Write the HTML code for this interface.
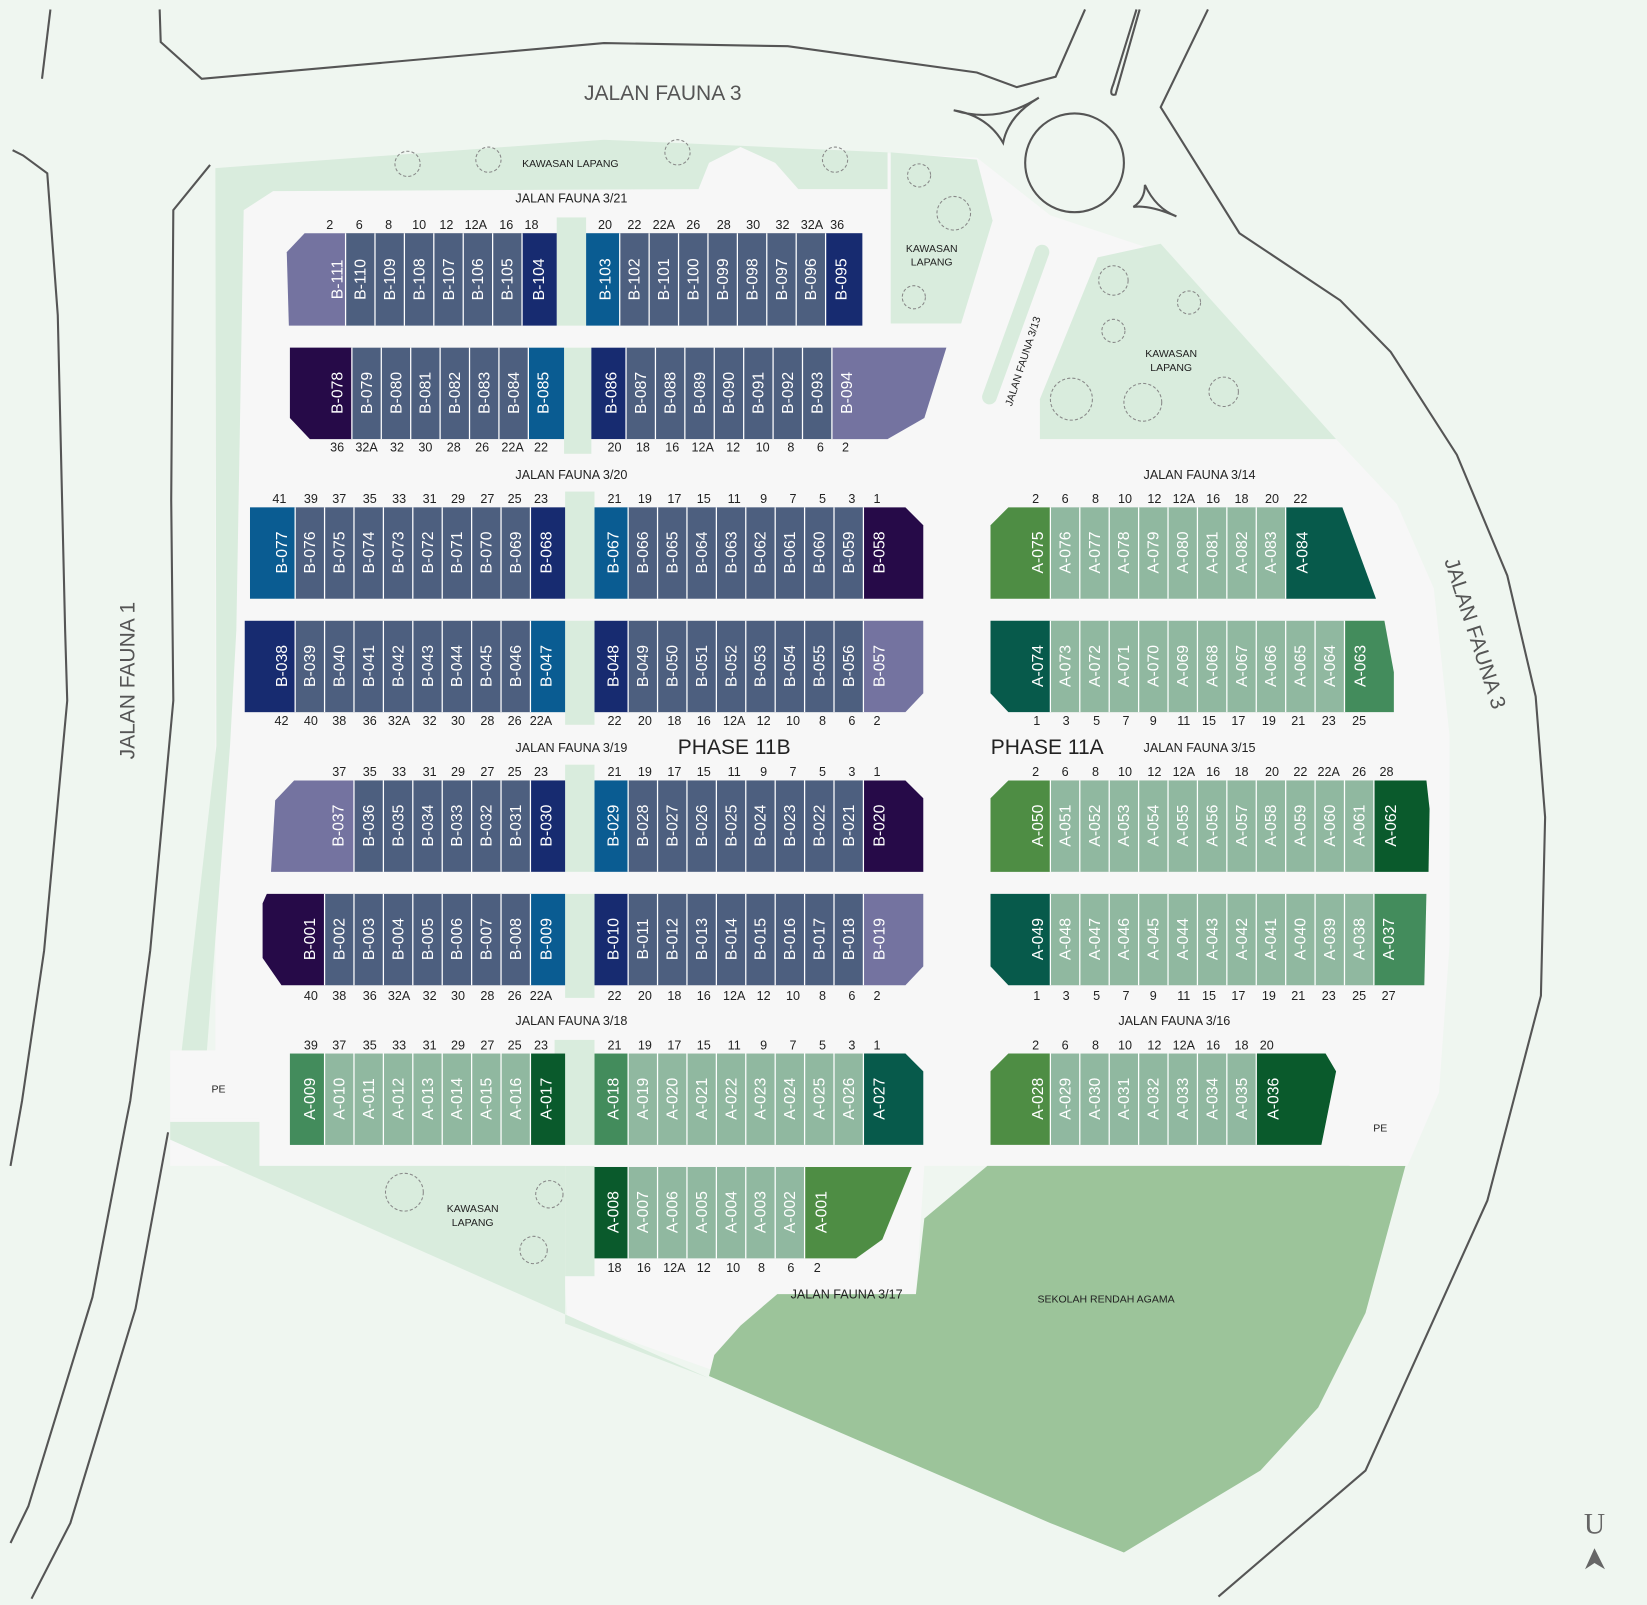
<!DOCTYPE html>
<html><head><meta charset="utf-8"><style>
html,body{margin:0;padding:0;background:#eff6f0}
svg{display:block}
.u{font-family:"Liberation Sans",sans-serif;font-size:15px;fill:#fff;text-anchor:middle}
.n{font-family:"Liberation Sans",sans-serif;font-size:12px;fill:#222;text-anchor:middle}
.r{font-family:"Liberation Sans",sans-serif;font-size:12px;fill:#222;text-anchor:middle}
.s{font-family:"Liberation Sans",sans-serif;font-size:10px;fill:#222;text-anchor:middle}
.big{font-family:"Liberation Sans",sans-serif;font-size:20px;fill:#555;text-anchor:middle}
.d{stroke:#fff;stroke-width:1.2}
.ol{fill:none;stroke:#555;stroke-width:2}
.tr{fill:none;stroke:#888;stroke-width:1;stroke-dasharray:3 2}
</style></head><body>
<svg width="1647" height="1605" viewBox="0 0 1568 1528" xmlns="http://www.w3.org/2000/svg">
<rect width="1568" height="1528" fill="#eff6f0"/>
<!-- outer road outlines -->
<polyline class="ol" points="48,9 40,75"/>
<polyline class="ol" points="152,9 153,40 192,75 575,41 750,44 930,69 968,83 1005,73 1033,9"/>
<path class="ol" d="M1082,9 L1060,80 Q1055,92 1062,90 L1085,9"/>
<polyline class="ol" points="1150,9 1105,102 1180,222 1276,286 1324,335 1387,433 1435,548 1462,663 1471,778 1467,948 1416,1143 1300,1400 1160,1520"/>
<polyline class="ol" points="12,143 22,148 45,165 55,300 62,600 64,667 42,905 21,1048 10,1110"/>
<polyline class="ol" points="200,157 165,200 163,476 165,667 143,905 124,1048 120,1068 88,1235 27,1434 10,1469"/>
<polyline class="ol" points="160,1078 129,1246 67,1450 30,1522"/>
<circle class="ol" cx="1023" cy="155" r="47"/>
<path class="ol" d="M908,105 Q950,118 989,93 Q960,110 955,136 Q940,110 908,105Z"/>
<path class="ol" d="M1090,176 Q1100,198 1120,206 Q1095,195 1079,197 Q1090,190 1090,176Z"/>
<!-- estate white -->
<polygon fill="#f7f7f7" points="205,160 575,133 930,150 1000,205 1090,235 1272,418 1330,480 1365,560 1380,700 1380,900 1370,1040 1340,1110 880,1110 872,1232 740,1234 705,1262 680,1305 540,1255 530,1110 162,1110 162,1000 205,1000"/>
<!-- parks -->
<polygon fill="#d9ecdd" points="205,160 575,133 845,145 845,180 760,180 738,155 705,140 675,155 665,180 260,182 232,200 225,600 219,710 197,1000 173,1000 206,710"/>
<polygon fill="#d9ecdd" points="848,145 930,152 945,210 915,308 848,308"/>
<polygon fill="#d9ecdd" points="1045,245 1105,232 1272,418 990,418 990,380"/>
<line x1="992" y1="240" x2="942" y2="378" stroke="#d9ecdd" stroke-width="14" stroke-linecap="round"/>
<polygon fill="#d9ecdd" points="162,1068 247,1068 247,1110 538,1110 538,1260 675,1312 162,1085"/>
<polygon fill="#9cc49a" points="940,1110 1338,1110 1300,1250 1255,1340 1200,1400 1070,1478 1000,1450 675,1310 680,1290 705,1262 740,1232 872,1232 880,1160"/>
<!-- green strips between blocks -->
<g fill="#d9ecdd">
<rect x="530" y="207" width="28" height="103"/><rect x="537" y="331" width="26" height="101"/>
<rect x="538" y="468" width="28" height="102"/><rect x="538" y="591" width="28" height="99"/>
<rect x="538" y="728" width="28" height="102"/><rect x="538" y="851" width="28" height="99"/>
<rect x="528" y="990" width="38" height="100"/><rect x="538" y="1110" width="28" height="105"/>
</g>
<!-- PE boxes -->
<rect x="162" y="1005" width="85" height="60" fill="#f7f7f7"/>
<polygon fill="#f7f7f7" points="1300,1035 1340,1030 1340,1110 1285,1110"/>
<text class="s" x="208" y="1040">PE</text><text class="s" x="1314" y="1077">PE</text>
<!-- trees -->
<g class="tr">
<circle cx="388" cy="156" r="12"/><circle cx="465" cy="152" r="12"/><circle cx="645" cy="145" r="12"/><circle cx="795" cy="152" r="12"/>
<circle cx="875" cy="167" r="11"/><circle cx="908" cy="203" r="16"/><circle cx="870" cy="283" r="11"/>
<circle cx="1060" cy="267" r="14"/><circle cx="1132" cy="288" r="11"/><circle cx="1060" cy="315" r="11"/><circle cx="1020" cy="380" r="20"/><circle cx="1088" cy="383" r="18"/><circle cx="1165" cy="373" r="14"/>
<circle cx="385" cy="1135" r="18"/><circle cx="523" cy="1137" r="13"/><circle cx="508" cy="1190" r="13"/>
</g>
<!-- labels -->
<text class="big" x="631" y="95">JALAN FAUNA 3</text>
<text class="big" transform="translate(128,648) rotate(-90)">JALAN FAUNA 1</text>
<text class="big" transform="translate(1398,605) rotate(72)">JALAN FAUNA 3</text>
<text class="s" x="543" y="159">KAWASAN LAPANG</text>
<text class="s" x="887" y="240">KAWASAN</text><text class="s" x="887" y="253">LAPANG</text>
<text class="s" x="1115" y="340">KAWASAN</text><text class="s" x="1115" y="353">LAPANG</text>
<text class="s" x="450" y="1154">KAWASAN</text><text class="s" x="450" y="1167">LAPANG</text>
<text class="s" x="1053" y="1240">SEKOLAH RENDAH AGAMA</text>
<text class="s" transform="translate(977,345) rotate(-72)">JALAN FAUNA 3/13</text>
<text class="r" x="544" y="193">JALAN FAUNA 3/21</text>
<text class="r" x="544" y="456">JALAN FAUNA 3/20</text>
<text class="r" x="1142" y="456">JALAN FAUNA 3/14</text>
<text class="r" x="544" y="716">JALAN FAUNA 3/19</text>
<text class="r" x="1142" y="716">JALAN FAUNA 3/15</text>
<text class="r" x="544" y="976">JALAN FAUNA 3/18</text>
<text class="r" x="1118" y="976">JALAN FAUNA 3/16</text>
<text class="r" x="806" y="1236">JALAN FAUNA 3/17</text>
<text x="699" y="718" style="font-family:'Liberation Sans',sans-serif;font-size:20px;fill:#222;text-anchor:middle">PHASE 11B</text>
<text x="997" y="718" style="font-family:'Liberation Sans',sans-serif;font-size:20px;fill:#222;text-anchor:middle">PHASE 11A</text>
<text x="1518" y="1460" style="font-family:'Liberation Serif',serif;font-size:28px;fill:#666;text-anchor:middle">U</text>
<polygon points="1509,1494 1518,1474 1528,1494 1518,1488" fill="#666"/>

<!-- ROW 1 -->
<rect x="329" y="222" width="168" height="88" fill="#4d5f7f"/>
<polygon points="290,222 329,222 329,310 275,310 273,240" fill="#7473a0"/>
<rect x="497" y="222" width="33" height="88" fill="#172b70"/>
<rect x="558" y="222" width="32" height="88" fill="#0a5c92"/>
<rect x="590" y="222" width="196" height="88" fill="#4d5f7f"/>
<rect x="786" y="222" width="35" height="88" fill="#172b70"/>
<g class="d"><path d="M329,222V310M357,222V310M385,222V310M413,222V310M441,222V310M469,222V310M497,222V310M590,222V310M618,222V310M646,222V310M674,222V310M702,222V310M730,222V310M758,222V310M786,222V310"/></g>
<g class="u">
<text transform="translate(321,266) rotate(-90)" dy="5">B-111</text><text transform="translate(343,266) rotate(-90)" dy="5">B-110</text><text transform="translate(371,266) rotate(-90)" dy="5">B-109</text><text transform="translate(399,266) rotate(-90)" dy="5">B-108</text><text transform="translate(427,266) rotate(-90)" dy="5">B-107</text><text transform="translate(455,266) rotate(-90)" dy="5">B-106</text><text transform="translate(483,266) rotate(-90)" dy="5">B-105</text><text transform="translate(513,266) rotate(-90)" dy="5">B-104</text>
<text transform="translate(576,266) rotate(-90)" dy="5">B-103</text><text transform="translate(604,266) rotate(-90)" dy="5">B-102</text><text transform="translate(632,266) rotate(-90)" dy="5">B-101</text><text transform="translate(660,266) rotate(-90)" dy="5">B-100</text><text transform="translate(688,266) rotate(-90)" dy="5">B-099</text><text transform="translate(716,266) rotate(-90)" dy="5">B-098</text><text transform="translate(744,266) rotate(-90)" dy="5">B-097</text><text transform="translate(772,266) rotate(-90)" dy="5">B-096</text><text transform="translate(801,266) rotate(-90)" dy="5">B-095</text>
</g>
<g class="n">
<text x="314" y="218">2</text><text x="342" y="218">6</text><text x="370" y="218">8</text><text x="399" y="218">10</text><text x="425" y="218">12</text><text x="453" y="218">12A</text><text x="482" y="218">16</text><text x="506" y="218">18</text>
<text x="576" y="218">20</text><text x="604" y="218">22</text><text x="632" y="218">22A</text><text x="660" y="218">26</text><text x="689" y="218">28</text><text x="717" y="218">30</text><text x="745" y="218">32</text><text x="773" y="218">32A</text><text x="797" y="218">36</text>
</g>

<!-- ROW 2 -->
<polygon points="276,331 335,331 335,418 295,418 276,398" fill="#260a48"/>
<rect x="335" y="331" width="168" height="87" fill="#4d5f7f"/>
<rect x="503" y="331" width="34" height="87" fill="#0a5c92"/>
<rect x="563" y="331" width="33" height="87" fill="#172b70"/>
<rect x="596" y="331" width="196" height="87" fill="#4d5f7f"/>
<polygon points="792,331 901,331 880,398 845,418 792,418" fill="#7473a0"/>
<g class="d"><path d="M335,331V418M363,331V418M391,331V418M419,331V418M447,331V418M475,331V418M503,331V418M596,331V418M624,331V418M652,331V418M680,331V418M708,331V418M736,331V418M764,331V418M792,331V418"/></g>
<g class="u">
<text transform="translate(321,374) rotate(-90)" dy="5">B-078</text><text transform="translate(349,374) rotate(-90)" dy="5">B-079</text><text transform="translate(377,374) rotate(-90)" dy="5">B-080</text><text transform="translate(405,374) rotate(-90)" dy="5">B-081</text><text transform="translate(433,374) rotate(-90)" dy="5">B-082</text><text transform="translate(461,374) rotate(-90)" dy="5">B-083</text><text transform="translate(489,374) rotate(-90)" dy="5">B-084</text><text transform="translate(517,374) rotate(-90)" dy="5">B-085</text>
<text transform="translate(582,374) rotate(-90)" dy="5">B-086</text><text transform="translate(610,374) rotate(-90)" dy="5">B-087</text><text transform="translate(638,374) rotate(-90)" dy="5">B-088</text><text transform="translate(666,374) rotate(-90)" dy="5">B-089</text><text transform="translate(694,374) rotate(-90)" dy="5">B-090</text><text transform="translate(722,374) rotate(-90)" dy="5">B-091</text><text transform="translate(750,374) rotate(-90)" dy="5">B-092</text><text transform="translate(778,374) rotate(-90)" dy="5">B-093</text><text transform="translate(806,374) rotate(-90)" dy="5">B-094</text>
</g>
<g class="n">
<text x="321" y="430">36</text><text x="349" y="430">32A</text><text x="378" y="430">32</text><text x="405" y="430">30</text><text x="432" y="430">28</text><text x="459" y="430">26</text><text x="488" y="430">22A</text><text x="515" y="430">22</text>
<text x="585" y="430">20</text><text x="612" y="430">18</text><text x="640" y="430">16</text><text x="669" y="430">12A</text><text x="698" y="430">12</text><text x="726" y="430">10</text><text x="753" y="430">8</text><text x="781" y="430">6</text><text x="805" y="430">2</text>
</g>

<!-- ROW 3 -->
<rect x="238" y="483" width="43" height="87" fill="#0a5c92"/>
<rect x="281" y="483" width="224" height="87" fill="#4d5f7f"/>
<rect x="505" y="483" width="33" height="87" fill="#172b70"/>
<rect x="566" y="483" width="32" height="87" fill="#0a5c92"/>
<rect x="598" y="483" width="224" height="87" fill="#4d5f7f"/>
<polygon points="822,483 862,483 879,500 879,570 822,570" fill="#260a48"/>
<g class="d"><path d="M281,483V570M309,483V570M337,483V570M365,483V570M393,483V570M421,483V570M449,483V570M477,483V570M505,483V570M598,483V570M626,483V570M654,483V570M682,483V570M710,483V570M738,483V570M766,483V570M794,483V570M822,483V570"/></g>
<g class="u">
<text transform="translate(268,526) rotate(-90)" dy="5">B-077</text><text transform="translate(295,526) rotate(-90)" dy="5">B-076</text><text transform="translate(323,526) rotate(-90)" dy="5">B-075</text><text transform="translate(351,526) rotate(-90)" dy="5">B-074</text><text transform="translate(379,526) rotate(-90)" dy="5">B-073</text><text transform="translate(407,526) rotate(-90)" dy="5">B-072</text><text transform="translate(435,526) rotate(-90)" dy="5">B-071</text><text transform="translate(463,526) rotate(-90)" dy="5">B-070</text><text transform="translate(491,526) rotate(-90)" dy="5">B-069</text><text transform="translate(520,526) rotate(-90)" dy="5">B-068</text>
<text transform="translate(584,526) rotate(-90)" dy="5">B-067</text><text transform="translate(612,526) rotate(-90)" dy="5">B-066</text><text transform="translate(640,526) rotate(-90)" dy="5">B-065</text><text transform="translate(668,526) rotate(-90)" dy="5">B-064</text><text transform="translate(696,526) rotate(-90)" dy="5">B-063</text><text transform="translate(724,526) rotate(-90)" dy="5">B-062</text><text transform="translate(752,526) rotate(-90)" dy="5">B-061</text><text transform="translate(780,526) rotate(-90)" dy="5">B-060</text><text transform="translate(808,526) rotate(-90)" dy="5">B-059</text><text transform="translate(837,526) rotate(-90)" dy="5">B-058</text>
</g>
<g class="n">
<text x="266" y="479">41</text><text x="296" y="479">39</text><text x="323" y="479">37</text><text x="352" y="479">35</text><text x="380" y="479">33</text><text x="409" y="479">31</text><text x="436" y="479">29</text><text x="464" y="479">27</text><text x="490" y="479">25</text><text x="515" y="479">23</text>
<text x="585" y="479">21</text><text x="614" y="479">19</text><text x="642" y="479">17</text><text x="670" y="479">15</text><text x="699" y="479">11</text><text x="727" y="479">9</text><text x="755" y="479">7</text><text x="783" y="479">5</text><text x="811" y="479">3</text><text x="835" y="479">1</text>
</g>

<!-- ROW 4 -->
<rect x="233" y="591" width="48" height="87" fill="#172b70"/>
<rect x="281" y="591" width="224" height="87" fill="#4d5f7f"/>
<rect x="505" y="591" width="33" height="87" fill="#0a5c92"/>
<rect x="566" y="591" width="32" height="87" fill="#172b70"/>
<rect x="598" y="591" width="224" height="87" fill="#4d5f7f"/>
<polygon points="822,591 879,591 879,660 862,678 822,678" fill="#7473a0"/>
<g class="d"><path d="M281,591V678M309,591V678M337,591V678M365,591V678M393,591V678M421,591V678M449,591V678M477,591V678M505,591V678M598,591V678M626,591V678M654,591V678M682,591V678M710,591V678M738,591V678M766,591V678M794,591V678M822,591V678"/></g>
<g class="u">
<text transform="translate(268,634) rotate(-90)" dy="5">B-038</text><text transform="translate(295,634) rotate(-90)" dy="5">B-039</text><text transform="translate(323,634) rotate(-90)" dy="5">B-040</text><text transform="translate(351,634) rotate(-90)" dy="5">B-041</text><text transform="translate(379,634) rotate(-90)" dy="5">B-042</text><text transform="translate(407,634) rotate(-90)" dy="5">B-043</text><text transform="translate(435,634) rotate(-90)" dy="5">B-044</text><text transform="translate(463,634) rotate(-90)" dy="5">B-045</text><text transform="translate(491,634) rotate(-90)" dy="5">B-046</text><text transform="translate(520,634) rotate(-90)" dy="5">B-047</text>
<text transform="translate(584,634) rotate(-90)" dy="5">B-048</text><text transform="translate(612,634) rotate(-90)" dy="5">B-049</text><text transform="translate(640,634) rotate(-90)" dy="5">B-050</text><text transform="translate(668,634) rotate(-90)" dy="5">B-051</text><text transform="translate(696,634) rotate(-90)" dy="5">B-052</text><text transform="translate(724,634) rotate(-90)" dy="5">B-053</text><text transform="translate(752,634) rotate(-90)" dy="5">B-054</text><text transform="translate(780,634) rotate(-90)" dy="5">B-055</text><text transform="translate(808,634) rotate(-90)" dy="5">B-056</text><text transform="translate(837,634) rotate(-90)" dy="5">B-057</text>
</g>
<g class="n">
<text x="268" y="690">42</text><text x="296" y="690">40</text><text x="323" y="690">38</text><text x="352" y="690">36</text><text x="380" y="690">32A</text><text x="409" y="690">32</text><text x="436" y="690">30</text><text x="464" y="690">28</text><text x="490" y="690">26</text><text x="515" y="690">22A</text>
<text x="585" y="690">22</text><text x="614" y="690">20</text><text x="642" y="690">18</text><text x="670" y="690">16</text><text x="699" y="690">12A</text><text x="727" y="690">12</text><text x="755" y="690">10</text><text x="783" y="690">8</text><text x="811" y="690">6</text><text x="835" y="690">2</text>
</g>

<!-- ROW 5 -->
<polygon points="280,743 337,743 337,830 258,830 262,762" fill="#7473a0"/>
<rect x="337" y="743" width="168" height="87" fill="#4d5f7f"/>
<rect x="505" y="743" width="33" height="87" fill="#172b70"/>
<rect x="566" y="743" width="32" height="87" fill="#0a5c92"/>
<rect x="598" y="743" width="224" height="87" fill="#4d5f7f"/>
<polygon points="822,743 862,743 879,760 879,830 822,830" fill="#260a48"/>
<g class="d"><path d="M337,743V830M365,743V830M393,743V830M421,743V830M449,743V830M477,743V830M505,743V830M598,743V830M626,743V830M654,743V830M682,743V830M710,743V830M738,743V830M766,743V830M794,743V830M822,743V830"/></g>
<g class="u">
<text transform="translate(322,786) rotate(-90)" dy="5">B-037</text><text transform="translate(351,786) rotate(-90)" dy="5">B-036</text><text transform="translate(379,786) rotate(-90)" dy="5">B-035</text><text transform="translate(407,786) rotate(-90)" dy="5">B-034</text><text transform="translate(435,786) rotate(-90)" dy="5">B-033</text><text transform="translate(463,786) rotate(-90)" dy="5">B-032</text><text transform="translate(491,786) rotate(-90)" dy="5">B-031</text><text transform="translate(520,786) rotate(-90)" dy="5">B-030</text>
<text transform="translate(584,786) rotate(-90)" dy="5">B-029</text><text transform="translate(612,786) rotate(-90)" dy="5">B-028</text><text transform="translate(640,786) rotate(-90)" dy="5">B-027</text><text transform="translate(668,786) rotate(-90)" dy="5">B-026</text><text transform="translate(696,786) rotate(-90)" dy="5">B-025</text><text transform="translate(724,786) rotate(-90)" dy="5">B-024</text><text transform="translate(752,786) rotate(-90)" dy="5">B-023</text><text transform="translate(780,786) rotate(-90)" dy="5">B-022</text><text transform="translate(808,786) rotate(-90)" dy="5">B-021</text><text transform="translate(837,786) rotate(-90)" dy="5">B-020</text>
</g>
<g class="n">
<text x="323" y="739">37</text><text x="352" y="739">35</text><text x="380" y="739">33</text><text x="409" y="739">31</text><text x="436" y="739">29</text><text x="464" y="739">27</text><text x="490" y="739">25</text><text x="515" y="739">23</text>
<text x="585" y="739">21</text><text x="614" y="739">19</text><text x="642" y="739">17</text><text x="670" y="739">15</text><text x="699" y="739">11</text><text x="727" y="739">9</text><text x="755" y="739">7</text><text x="783" y="739">5</text><text x="811" y="739">3</text><text x="835" y="739">1</text>
</g>

<!-- ROW 6 -->
<polygon points="254,851 309,851 309,938 268,938 250,912 250,860" fill="#260a48"/>
<rect x="309" y="851" width="196" height="87" fill="#4d5f7f"/>
<rect x="505" y="851" width="33" height="87" fill="#0a5c92"/>
<rect x="566" y="851" width="32" height="87" fill="#172b70"/>
<rect x="598" y="851" width="224" height="87" fill="#4d5f7f"/>
<polygon points="822,851 879,851 879,920 862,938 822,938" fill="#7473a0"/>
<g class="d"><path d="M309,851V938M337,851V938M365,851V938M393,851V938M421,851V938M449,851V938M477,851V938M505,851V938M598,851V938M626,851V938M654,851V938M682,851V938M710,851V938M738,851V938M766,851V938M794,851V938M822,851V938"/></g>
<g class="u">
<text transform="translate(295,894) rotate(-90)" dy="5">B-001</text><text transform="translate(323,894) rotate(-90)" dy="5">B-002</text><text transform="translate(351,894) rotate(-90)" dy="5">B-003</text><text transform="translate(379,894) rotate(-90)" dy="5">B-004</text><text transform="translate(407,894) rotate(-90)" dy="5">B-005</text><text transform="translate(435,894) rotate(-90)" dy="5">B-006</text><text transform="translate(463,894) rotate(-90)" dy="5">B-007</text><text transform="translate(491,894) rotate(-90)" dy="5">B-008</text><text transform="translate(520,894) rotate(-90)" dy="5">B-009</text>
<text transform="translate(584,894) rotate(-90)" dy="5">B-010</text><text transform="translate(612,894) rotate(-90)" dy="5">B-011</text><text transform="translate(640,894) rotate(-90)" dy="5">B-012</text><text transform="translate(668,894) rotate(-90)" dy="5">B-013</text><text transform="translate(696,894) rotate(-90)" dy="5">B-014</text><text transform="translate(724,894) rotate(-90)" dy="5">B-015</text><text transform="translate(752,894) rotate(-90)" dy="5">B-016</text><text transform="translate(780,894) rotate(-90)" dy="5">B-017</text><text transform="translate(808,894) rotate(-90)" dy="5">B-018</text><text transform="translate(837,894) rotate(-90)" dy="5">B-019</text>
</g>
<g class="n">
<text x="296" y="952">40</text><text x="323" y="952">38</text><text x="352" y="952">36</text><text x="380" y="952">32A</text><text x="409" y="952">32</text><text x="436" y="952">30</text><text x="464" y="952">28</text><text x="490" y="952">26</text><text x="515" y="952">22A</text>
<text x="585" y="952">22</text><text x="614" y="952">20</text><text x="642" y="952">18</text><text x="670" y="952">16</text><text x="699" y="952">12A</text><text x="727" y="952">12</text><text x="755" y="952">10</text><text x="783" y="952">8</text><text x="811" y="952">6</text><text x="835" y="952">2</text>
</g>

<!-- ROW 7 (A) -->
<rect x="276" y="1003" width="33" height="87" fill="#438c5c"/>
<rect x="309" y="1003" width="196" height="87" fill="#90b8a0"/>
<rect x="505" y="1003" width="33" height="87" fill="#0a5a2c"/>
<rect x="566" y="1003" width="32" height="87" fill="#438c5c"/>
<rect x="598" y="1003" width="224" height="87" fill="#90b8a0"/>
<polygon points="822,1003 862,1003 879,1020 879,1090 822,1090" fill="#075a4b"/>
<g class="d"><path d="M309,1003V1090M337,1003V1090M365,1003V1090M393,1003V1090M421,1003V1090M449,1003V1090M477,1003V1090M505,1003V1090M598,1003V1090M626,1003V1090M654,1003V1090M682,1003V1090M710,1003V1090M738,1003V1090M766,1003V1090M794,1003V1090M822,1003V1090"/></g>
<g class="u">
<text transform="translate(295,1046) rotate(-90)" dy="5">A-009</text><text transform="translate(323,1046) rotate(-90)" dy="5">A-010</text><text transform="translate(351,1046) rotate(-90)" dy="5">A-011</text><text transform="translate(379,1046) rotate(-90)" dy="5">A-012</text><text transform="translate(407,1046) rotate(-90)" dy="5">A-013</text><text transform="translate(435,1046) rotate(-90)" dy="5">A-014</text><text transform="translate(463,1046) rotate(-90)" dy="5">A-015</text><text transform="translate(491,1046) rotate(-90)" dy="5">A-016</text><text transform="translate(520,1046) rotate(-90)" dy="5">A-017</text>
<text transform="translate(584,1046) rotate(-90)" dy="5">A-018</text><text transform="translate(612,1046) rotate(-90)" dy="5">A-019</text><text transform="translate(640,1046) rotate(-90)" dy="5">A-020</text><text transform="translate(668,1046) rotate(-90)" dy="5">A-021</text><text transform="translate(696,1046) rotate(-90)" dy="5">A-022</text><text transform="translate(724,1046) rotate(-90)" dy="5">A-023</text><text transform="translate(752,1046) rotate(-90)" dy="5">A-024</text><text transform="translate(780,1046) rotate(-90)" dy="5">A-025</text><text transform="translate(808,1046) rotate(-90)" dy="5">A-026</text><text transform="translate(837,1046) rotate(-90)" dy="5">A-027</text>
</g>
<g class="n">
<text x="296" y="999">39</text><text x="323" y="999">37</text><text x="352" y="999">35</text><text x="380" y="999">33</text><text x="409" y="999">31</text><text x="436" y="999">29</text><text x="464" y="999">27</text><text x="490" y="999">25</text><text x="515" y="999">23</text>
<text x="585" y="999">21</text><text x="614" y="999">19</text><text x="642" y="999">17</text><text x="670" y="999">15</text><text x="699" y="999">11</text><text x="727" y="999">9</text><text x="755" y="999">7</text><text x="783" y="999">5</text><text x="811" y="999">3</text><text x="835" y="999">1</text>
</g>

<!-- ROW 8 -->
<rect x="566" y="1111" width="32" height="87" fill="#0a5a2c"/>
<rect x="598" y="1111" width="168" height="87" fill="#90b8a0"/>
<polygon points="766,1111 868,1111 840,1180 815,1198 766,1198" fill="#4e8d44"/>
<g class="d"><path d="M598,1111V1198M626,1111V1198M654,1111V1198M682,1111V1198M710,1111V1198M738,1111V1198M766,1111V1198"/></g>
<g class="u">
<text transform="translate(584,1154) rotate(-90)" dy="5">A-008</text><text transform="translate(612,1154) rotate(-90)" dy="5">A-007</text><text transform="translate(640,1154) rotate(-90)" dy="5">A-006</text><text transform="translate(668,1154) rotate(-90)" dy="5">A-005</text><text transform="translate(696,1154) rotate(-90)" dy="5">A-004</text><text transform="translate(724,1154) rotate(-90)" dy="5">A-003</text><text transform="translate(752,1154) rotate(-90)" dy="5">A-002</text><text transform="translate(782,1154) rotate(-90)" dy="5">A-001</text>
</g>
<g class="n">
<text x="585" y="1211">18</text><text x="613" y="1211">16</text><text x="642" y="1211">12A</text><text x="670" y="1211">12</text><text x="698" y="1211">10</text><text x="725" y="1211">8</text><text x="753" y="1211">6</text><text x="778" y="1211">2</text>
</g>

<!-- A ROW 1 -->
<polygon points="960,483 1000,483 1000,570 943,570 943,500" fill="#4e8d44"/>
<rect x="1000" y="483" width="224" height="87" fill="#90b8a0"/>
<polygon points="1224,483 1278,483 1310,570 1224,570" fill="#075a4b"/>
<g class="d"><path d="M1000,483V570M1028,483V570M1056,483V570M1084,483V570M1112,483V570M1140,483V570M1168,483V570M1196,483V570M1224,483V570"/></g>
<g class="u">
<text transform="translate(988,526) rotate(-90)" dy="5">A-075</text><text transform="translate(1014,526) rotate(-90)" dy="5">A-076</text><text transform="translate(1042,526) rotate(-90)" dy="5">A-077</text><text transform="translate(1070,526) rotate(-90)" dy="5">A-078</text><text transform="translate(1098,526) rotate(-90)" dy="5">A-079</text><text transform="translate(1126,526) rotate(-90)" dy="5">A-080</text><text transform="translate(1154,526) rotate(-90)" dy="5">A-081</text><text transform="translate(1182,526) rotate(-90)" dy="5">A-082</text><text transform="translate(1210,526) rotate(-90)" dy="5">A-083</text><text transform="translate(1240,526) rotate(-90)" dy="5">A-084</text>
</g>
<g class="n">
<text x="986" y="479">2</text><text x="1014" y="479">6</text><text x="1043" y="479">8</text><text x="1071" y="479">10</text><text x="1099" y="479">12</text><text x="1127" y="479">12A</text><text x="1155" y="479">16</text><text x="1182" y="479">18</text><text x="1211" y="479">20</text><text x="1238" y="479">22</text>
</g>

<!-- A ROW 2 -->
<polygon points="943,591 1000,591 1000,678 960,678 943,660" fill="#075a4b"/>
<rect x="1000" y="591" width="280" height="87" fill="#90b8a0"/>
<polygon points="1280,591 1318,591 1327,640 1327,678 1280,678" fill="#438c5c"/>
<g class="d"><path d="M1000,591V678M1028,591V678M1056,591V678M1084,591V678M1112,591V678M1140,591V678M1168,591V678M1196,591V678M1224,591V678M1252,591V678M1280,591V678"/></g>
<g class="u">
<text transform="translate(988,634) rotate(-90)" dy="5">A-074</text><text transform="translate(1014,634) rotate(-90)" dy="5">A-073</text><text transform="translate(1042,634) rotate(-90)" dy="5">A-072</text><text transform="translate(1070,634) rotate(-90)" dy="5">A-071</text><text transform="translate(1098,634) rotate(-90)" dy="5">A-070</text><text transform="translate(1126,634) rotate(-90)" dy="5">A-069</text><text transform="translate(1154,634) rotate(-90)" dy="5">A-068</text><text transform="translate(1182,634) rotate(-90)" dy="5">A-067</text><text transform="translate(1210,634) rotate(-90)" dy="5">A-066</text><text transform="translate(1238,634) rotate(-90)" dy="5">A-065</text><text transform="translate(1266,634) rotate(-90)" dy="5">A-064</text><text transform="translate(1295,634) rotate(-90)" dy="5">A-063</text>
</g>
<g class="n">
<text x="987" y="690">1</text><text x="1015" y="690">3</text><text x="1044" y="690">5</text><text x="1072" y="690">7</text><text x="1098" y="690">9</text><text x="1127" y="690">11</text><text x="1151" y="690">15</text><text x="1179" y="690">17</text><text x="1208" y="690">19</text><text x="1236" y="690">21</text><text x="1265" y="690">23</text><text x="1294" y="690">25</text>
</g>

<!-- A ROW 3 -->
<polygon points="960,743 1000,743 1000,830 943,830 943,760" fill="#4e8d44"/>
<rect x="1000" y="743" width="308" height="87" fill="#90b8a0"/>
<polygon points="1308,743 1358,743 1361,770 1360,830 1308,830" fill="#0a5a2c"/>
<g class="d"><path d="M1000,743V830M1028,743V830M1056,743V830M1084,743V830M1112,743V830M1140,743V830M1168,743V830M1196,743V830M1224,743V830M1252,743V830M1280,743V830M1308,743V830"/></g>
<g class="u">
<text transform="translate(988,786) rotate(-90)" dy="5">A-050</text><text transform="translate(1014,786) rotate(-90)" dy="5">A-051</text><text transform="translate(1042,786) rotate(-90)" dy="5">A-052</text><text transform="translate(1070,786) rotate(-90)" dy="5">A-053</text><text transform="translate(1098,786) rotate(-90)" dy="5">A-054</text><text transform="translate(1126,786) rotate(-90)" dy="5">A-055</text><text transform="translate(1154,786) rotate(-90)" dy="5">A-056</text><text transform="translate(1182,786) rotate(-90)" dy="5">A-057</text><text transform="translate(1210,786) rotate(-90)" dy="5">A-058</text><text transform="translate(1238,786) rotate(-90)" dy="5">A-059</text><text transform="translate(1266,786) rotate(-90)" dy="5">A-060</text><text transform="translate(1294,786) rotate(-90)" dy="5">A-061</text><text transform="translate(1324,786) rotate(-90)" dy="5">A-062</text>
</g>
<g class="n">
<text x="986" y="739">2</text><text x="1014" y="739">6</text><text x="1043" y="739">8</text><text x="1071" y="739">10</text><text x="1099" y="739">12</text><text x="1127" y="739">12A</text><text x="1155" y="739">16</text><text x="1182" y="739">18</text><text x="1211" y="739">20</text><text x="1238" y="739">22</text><text x="1265" y="739">22A</text><text x="1294" y="739">26</text><text x="1320" y="739">28</text>
</g>

<!-- A ROW 4 -->
<polygon points="943,851 1000,851 1000,938 960,938 943,920" fill="#075a4b"/>
<rect x="1000" y="851" width="308" height="87" fill="#90b8a0"/>
<polygon points="1308,851 1358,851 1356,938 1308,938" fill="#438c5c"/>
<g class="d"><path d="M1000,851V938M1028,851V938M1056,851V938M1084,851V938M1112,851V938M1140,851V938M1168,851V938M1196,851V938M1224,851V938M1252,851V938M1280,851V938M1308,851V938"/></g>
<g class="u">
<text transform="translate(988,894) rotate(-90)" dy="5">A-049</text><text transform="translate(1014,894) rotate(-90)" dy="5">A-048</text><text transform="translate(1042,894) rotate(-90)" dy="5">A-047</text><text transform="translate(1070,894) rotate(-90)" dy="5">A-046</text><text transform="translate(1098,894) rotate(-90)" dy="5">A-045</text><text transform="translate(1126,894) rotate(-90)" dy="5">A-044</text><text transform="translate(1154,894) rotate(-90)" dy="5">A-043</text><text transform="translate(1182,894) rotate(-90)" dy="5">A-042</text><text transform="translate(1210,894) rotate(-90)" dy="5">A-041</text><text transform="translate(1238,894) rotate(-90)" dy="5">A-040</text><text transform="translate(1266,894) rotate(-90)" dy="5">A-039</text><text transform="translate(1294,894) rotate(-90)" dy="5">A-038</text><text transform="translate(1322,894) rotate(-90)" dy="5">A-037</text>
</g>
<g class="n">
<text x="987" y="952">1</text><text x="1015" y="952">3</text><text x="1044" y="952">5</text><text x="1072" y="952">7</text><text x="1098" y="952">9</text><text x="1127" y="952">11</text><text x="1151" y="952">15</text><text x="1179" y="952">17</text><text x="1208" y="952">19</text><text x="1236" y="952">21</text><text x="1265" y="952">23</text><text x="1294" y="952">25</text><text x="1322" y="952">27</text>
</g>

<!-- A ROW 5 -->
<polygon points="960,1003 1000,1003 1000,1090 943,1090 943,1020" fill="#4e8d44"/>
<rect x="1000" y="1003" width="196" height="87" fill="#90b8a0"/>
<polygon points="1196,1003 1262,1003 1272,1020 1258,1090 1196,1090" fill="#0a5a2c"/>
<g class="d"><path d="M1000,1003V1090M1028,1003V1090M1056,1003V1090M1084,1003V1090M1112,1003V1090M1140,1003V1090M1168,1003V1090M1196,1003V1090"/></g>
<g class="u">
<text transform="translate(988,1046) rotate(-90)" dy="5">A-028</text><text transform="translate(1014,1046) rotate(-90)" dy="5">A-029</text><text transform="translate(1042,1046) rotate(-90)" dy="5">A-030</text><text transform="translate(1070,1046) rotate(-90)" dy="5">A-031</text><text transform="translate(1098,1046) rotate(-90)" dy="5">A-032</text><text transform="translate(1126,1046) rotate(-90)" dy="5">A-033</text><text transform="translate(1154,1046) rotate(-90)" dy="5">A-034</text><text transform="translate(1182,1046) rotate(-90)" dy="5">A-035</text><text transform="translate(1212,1046) rotate(-90)" dy="5">A-036</text>
</g>
<g class="n">
<text x="986" y="999">2</text><text x="1014" y="999">6</text><text x="1043" y="999">8</text><text x="1071" y="999">10</text><text x="1099" y="999">12</text><text x="1127" y="999">12A</text><text x="1155" y="999">16</text><text x="1182" y="999">18</text><text x="1206" y="999">20</text>
</g>
</svg>
</body></html>
